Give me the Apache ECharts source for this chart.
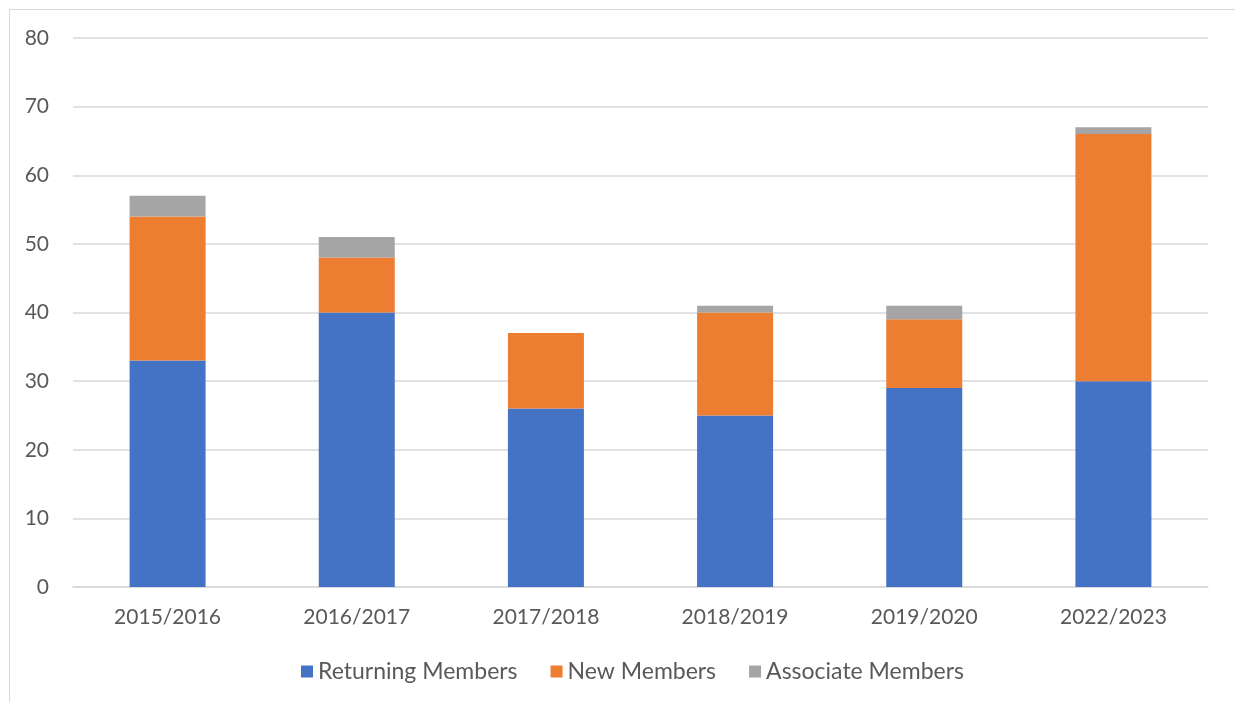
<!DOCTYPE html>
<html><head><meta charset="utf-8">
<script src="https://cdn.jsdelivr.net/npm/echarts@6/dist/echarts.min.js"></script>
<style>html,body{margin:0;padding:0;background:#fff}#c{width:1235px;height:702px}</style>
</head><body><div id="c"></div>
<script>
const categories = ['2015/2016','2016/2017','2017/2018','2018/2019','2019/2020','2022/2023'];
const returningMembers = [33, 40, 26, 25, 29, 30];
const newMembers = [21, 8, 11, 15, 10, 36];
const associateMembers = [3, 3, 0, 1, 2, 1];
const yTicks = [0, 10, 20, 30, 40, 50, 60, 70, 80];

const font = 'Lato, "Open Sans", sans-serif';
const chart = echarts.init(document.getElementById('c'), null, {renderer: 'canvas'});
const mk = (name, data, color) => ({
  name, type: 'bar', stack: 'total', data, barWidth: 76,
  itemStyle: {color}, emphasis: {disabled: true}
});
chart.setOption({
  animation: false,
  graphic: [{type: 'rect', shape: {x: 9.5, y: 9.5, width: 1300, height: 800},
    style: {fill: null, stroke: '#d9d9d9', lineWidth: 1}, silent: true, z: -1}],
  grid: {left: 73, right: 27, top: 38, bottom: 115, containLabel: false},
  legend: {
    bottom: 14, left: 296, itemWidth: 12, itemHeight: 12, itemGap: 33,
    icon: 'rect',
    textStyle: {fontFamily: font, fontSize: 23, color: '#595959'},
    data: ['Returning Members', 'New Members', 'Associate Members']
  },
  xAxis: {
    type: 'category', data: categories,
    axisLine: {lineStyle: {color: '#d9d9d9', width: 1.5}},
    axisTick: {show: false},
    axisLabel: {fontFamily: font, fontSize: 21, color: '#595959', margin: 20}
  },
  yAxis: {
    type: 'value', min: yTicks[0], max: yTicks[yTicks.length-1], interval: 10,
    axisLine: {show: false}, axisTick: {show: false},
    splitLine: {lineStyle: {color: '#d9d9d9', width: 1.5}},
    axisLabel: {fontFamily: font, fontSize: 21, color: '#595959', margin: 24}
  },
  series: [
    mk('Returning Members', returningMembers, '#4472c4'),
    mk('New Members', newMembers, '#ed7d31'),
    mk('Associate Members', associateMembers, '#a5a5a5')
  ]
});
</script></body></html>
